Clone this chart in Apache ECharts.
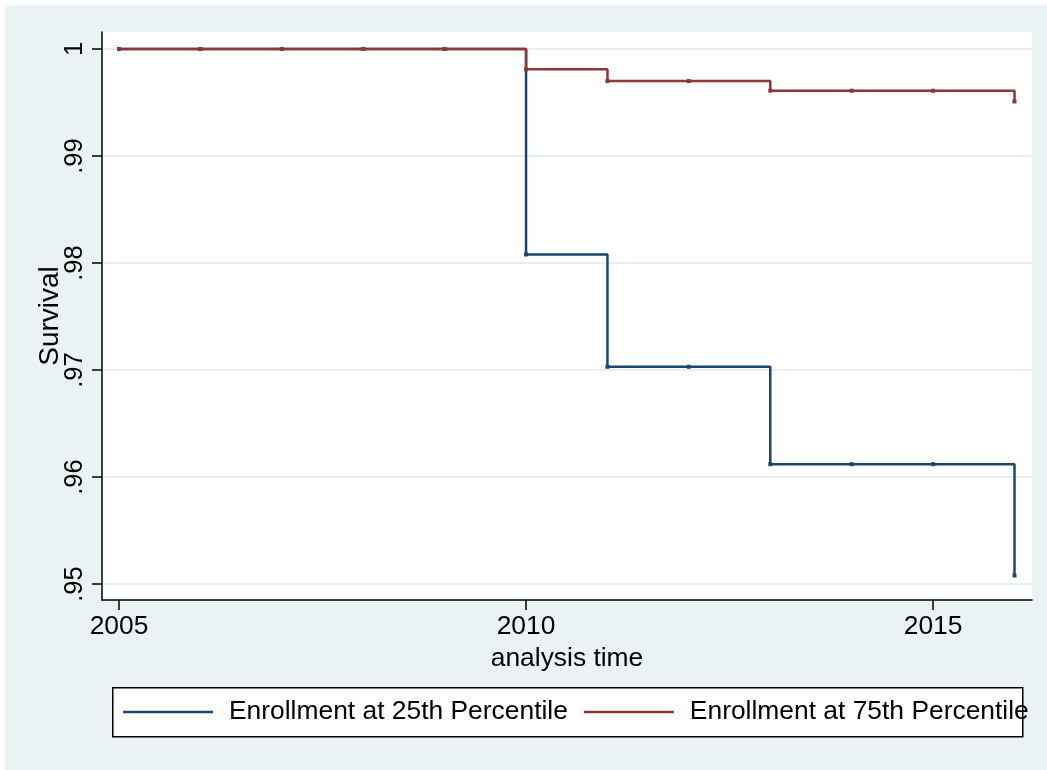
<!DOCTYPE html>
<html>
<head>
<meta charset="utf-8">
<script src="https://cdn.jsdelivr.net/npm/echarts@6/dist/echarts.min.js"></script>
<style>
html,body{margin:0;padding:0;background:#ffffff;}
#chart{position:absolute;left:5px;top:5px;width:1042px;height:765px;}
</style>
</head>
<body>
<div id="chart"></div>
<script>
// Data
const years = [2005, 2006, 2007, 2008, 2009, 2010, 2011, 2012, 2013, 2014, 2015, 2016];
const p25 = [1, 1, 1, 1, 1, 0.9808, 0.9703, 0.9703, 0.9612, 0.9612, 0.9612, 0.9508];
const p75 = [1, 1, 1, 1, 1, 0.9981, 0.9970, 0.9970, 0.9961, 0.9961, 0.9961, 0.9951];
const seriesNames = ['Enrollment at 25th Percentile', 'Enrollment at 75th Percentile'];
const yTicks = [0.95, 0.96, 0.97, 0.98, 0.99, 1];
const yTickLabels = ['.95', '.96', '.97', '.98', '.99', '1'];
const xTicks = [2005, 2010, 2015];
const xTickLabels = ['2005', '2010', '2015'];

const FONT = 'Liberation Sans, Arial, Helvetica, sans-serif';
const chart = echarts.init(document.getElementById('chart'), null, {renderer: 'canvas'});

function pairs(xs, ys) { return xs.map((x, i) => [x, ys[i]]); }

const option = {
  animation: false,
  backgroundColor: '#EAF2F3',
  textStyle: {fontFamily: FONT},
  grid: {
    left: 97, right: 15, top: 27, bottom: 170,
    show: true, backgroundColor: '#ffffff', borderWidth: 0,
    outerBoundsMode: 'none'
  },
  legend: {
    left: 118, top: 692, padding: 0,
    icon: 'rect', itemWidth: 90, itemHeight: 2.5, itemGap: 16,
    textStyle: {fontFamily: FONT, fontSize: 26.4, color: '#000', lineHeight: 30, padding: [0, 0, 0, 11]},
    data: seriesNames
  },
  graphic: [{
    type: 'rect', left: 107, top: 682, z: -1,
    shape: {width: 910, height: 49},
    style: {fill: '#ffffff', stroke: '#000000', lineWidth: 1.5}
  }],
  xAxis: {
    type: 'value', min: 2004.791, max: 2016.215,
    name: 'analysis time', nameLocation: 'middle', nameGap: 46, nameMoveOverlap: false,
    nameTextStyle: {fontFamily: FONT, fontSize: 26.4, color: '#000'},
    axisLine: {show: true, onZero: false, lineStyle: {color: '#000', width: 1.5}},
    axisTick: {show: true, length: 10, customValues: xTicks, lineStyle: {color: '#000', width: 1.5}},
    axisLabel: {customValues: xTicks, fontFamily: FONT, fontSize: 26.4, color: '#000', margin: 14,
      formatter: v => xTickLabels[xTicks.indexOf(v)] ?? ''},
    splitLine: {show: false}
  },
  yAxis: {
    type: 'value', min: 0.948505, max: 1.001589,
    name: 'Survival', nameLocation: 'middle', nameGap: 38, nameRotate: 90, nameMoveOverlap: false,
    nameTextStyle: {fontFamily: FONT, fontSize: 28, color: '#000'},
    axisLine: {show: true, onZero: false, lineStyle: {color: '#000', width: 1.5}},
    axisTick: {show: true, length: 10, customValues: yTicks, lineStyle: {color: '#000', width: 1.5}},
    axisLabel: {customValues: yTicks, rotate: 90, fontFamily: FONT, fontSize: 25.5, color: '#000', margin: 14,
      formatter: v => { const i = yTicks.findIndex(t => Math.abs(t - v) < 1e-9); return i >= 0 ? yTickLabels[i] : ''; }},
    splitLine: {show: true, lineStyle: {color: '#E6EFF1', width: 2}}
  },
  series: [
    {
      name: seriesNames[0], type: 'line', step: 'end',
      data: pairs(years, p25),
      symbol: 'rect', symbolSize: 4, showSymbol: true,
      color: '#1A476F',
      lineStyle: {color: '#1A476F', width: 2.5},
      itemStyle: {color: '#1A476F'},
      z: 2
    },
    {
      name: seriesNames[1], type: 'line', step: 'end',
      data: pairs(years, p75),
      symbol: 'rect', symbolSize: 4, showSymbol: true,
      color: '#90353B',
      lineStyle: {color: '#90353B', width: 2.5},
      itemStyle: {color: '#90353B'},
      z: 3
    }
  ]
};
chart.setOption(option);
</script>
</body>
</html>
